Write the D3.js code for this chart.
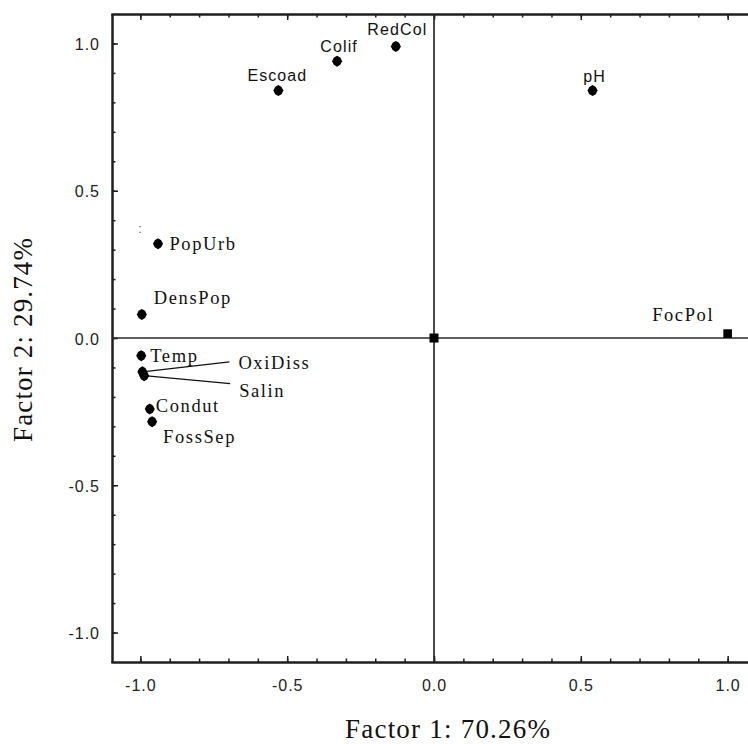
<!DOCTYPE html>
<html>
<head>
<meta charset="utf-8">
<script src="https://cdn.jsdelivr.net/npm/d3@7/dist/d3.min.js"></script>
<style>
  html, body { margin: 0; padding: 0; background: #fff; }
  svg { display: block; }
  .tick-label { font-family: "Liberation Sans", Arial, sans-serif; font-size: 16px; letter-spacing: 1px; fill: #222; }
  .lab-sans { font-family: "Liberation Sans", Arial, sans-serif; font-size: 16px; letter-spacing: 1.1px; fill: #111; }
  .lab-serif { font-family: "Liberation Serif", "Times New Roman", serif; font-size: 18.5px; letter-spacing: 1.6px; fill: #111; }
  .title { font-family: "Liberation Serif", "Times New Roman", serif; font-size: 27px; fill: #111; }
</style>
</head>
<body>
<svg id="chart" width="748" height="744"></svg>
<script>
// Factor loadings of the variables on the first two factors
const variables = ["Escoad", "Colif", "RedCol", "pH", "PopUrb", "DensPop", "Temp", "OxiDiss", "Salin", "Condut", "FossSep", "FocPol"];
const factor1   = [-0.53, -0.33, -0.13, 0.54, -0.94, -0.995, -0.997, -0.993, -0.987, -0.968, -0.960, 1.00];
const factor2   = [0.84, 0.94, 0.99, 0.84, 0.32, 0.08, -0.06, -0.115, -0.128, -0.241, -0.284, 0.015];
const markerKind = ["point", "point", "point", "point", "point", "point", "point", "point", "point", "point", "point", "square"];

// Axis ticks
const majorTicks = [-1.0, -0.5, 0.0, 0.5, 1.0];
const minorTicks = [-1.0, -0.9, -0.8, -0.7, -0.6, -0.5, -0.4, -0.3, -0.2, -0.1, 0.0, 0.1, 0.2, 0.3, 0.4, 0.5, 0.6, 0.7, 0.8, 0.9, 1.0];

// Axis titles
const xTitle = "Factor 1: 70.26%";
const yTitle = "Factor 2: 29.74%";

// Label placement (offset of text from its marker, in pixels)
const labelLayout = {
  Escoad:  { cls: "lab-sans",  anchor: "middle", dx: -1,  dy: -10 },
  Colif:   { cls: "lab-sans",  anchor: "middle", dx: 2,   dy: -9.5 },
  RedCol:  { cls: "lab-sans",  anchor: "middle", dx: 1.5, dy: -11 },
  pH:      { cls: "lab-sans",  anchor: "middle", dx: 2,   dy: -8.5 },
  PopUrb:  { cls: "lab-serif", anchor: "start",  dx: 11.5, dy: 6 },
  DensPop: { cls: "lab-serif", anchor: "start",  dx: 12,  dy: -10.5 },
  Temp:    { cls: "lab-serif", anchor: "start",  dx: 9,   dy: 6 },
  OxiDiss: { cls: "lab-serif", anchor: "start",  dx: 96,  dy: -3,  leader: [-9, -7] },
  Salin:   { cls: "lab-serif", anchor: "start",  dx: 95,  dy: 21,  leader: [-9, -13] },
  Condut:  { cls: "lab-serif", anchor: "start",  dx: 6,   dy: 3 },
  FossSep: { cls: "lab-serif", anchor: "start",  dx: 11,  dy: 21.5 },
  FocPol:  { cls: "lab-serif", anchor: "start",  dx: -75.5, dy: -13 }
};

const svg = d3.select("#chart");
const plotLeft = 112, plotTop = 14, plotBottom = 662;

const x = d3.scaleLinear().domain([-1.1, 1.1]).range([111, 757]);
const y = d3.scaleLinear().domain([-1.1, 1.1]).range([662, 14]);

const axisColor = "#1e1e1e";

function styleAxis(g, width) {
  g.selectAll(".domain").attr("stroke", axisColor).attr("stroke-width", width);
  g.selectAll(".tick line").attr("stroke", axisColor).attr("stroke-width", 1.5);
}

// Left axis: minor + major ticks pointing inward
svg.append("g").attr("transform", `translate(${plotLeft},0)`)
  .call(d3.axisLeft(y).tickValues(minorTicks).tickSize(-3.5).tickSizeOuter(0).tickFormat(""))
  .call(g => styleAxis(g, 2));
svg.append("g").attr("transform", `translate(${plotLeft},0)`)
  .call(d3.axisLeft(y).tickValues(majorTicks).tickSize(-6).tickSizeOuter(0).tickPadding(12)
    .tickFormat(d => d.toFixed(1)))
  .call(g => styleAxis(g, 2))
  .call(g => g.selectAll("text").attr("class", "tick-label").attr("dy", "0.38em"))
  .call(g => g.attr("font-family", null).attr("font-size", null));

// Bottom axis
svg.append("g").attr("transform", `translate(0,${plotBottom})`)
  .call(d3.axisBottom(x).tickValues(minorTicks).tickSize(-3.5).tickSizeOuter(0).tickFormat(""))
  .call(g => styleAxis(g, 2));
svg.append("g").attr("transform", `translate(0,${plotBottom})`)
  .call(d3.axisBottom(x).tickValues(majorTicks).tickSize(-6).tickSizeOuter(0).tickPadding(18)
    .tickFormat(d => d.toFixed(1)))
  .call(g => styleAxis(g, 2))
  .call(g => g.selectAll("text").attr("class", "tick-label"))
  .call(g => g.attr("font-family", null).attr("font-size", null));

// Top axis (ticks only)
svg.append("g").attr("transform", `translate(0,${plotTop})`)
  .call(d3.axisTop(x).tickValues(minorTicks).tickSize(-3.5).tickSizeOuter(0).tickFormat(""))
  .call(g => styleAxis(g, 2));
svg.append("g").attr("transform", `translate(0,${plotTop})`)
  .call(d3.axisTop(x).tickValues(majorTicks).tickSize(-6).tickSizeOuter(0).tickFormat(""))
  .call(g => styleAxis(g, 2));

// Zero reference lines
svg.append("line")
  .attr("x1", x(0)).attr("x2", x(0)).attr("y1", plotTop).attr("y2", plotBottom)
  .attr("stroke", "#2a2a2a").attr("stroke-width", 1.7);
svg.append("line")
  .attr("x1", plotLeft).attr("x2", 748).attr("y1", y(0)).attr("y2", y(0))
  .attr("stroke", "#2a2a2a").attr("stroke-width", 1.7);

// Origin marker
svg.append("rect")
  .attr("x", x(0) - 4.5).attr("y", y(0) - 4.5).attr("width", 9).attr("height", 9)
  .attr("fill", "#000");

// Small stray glyph near the left axis
svg.append("text")
  .attr("x", x(-1.0) - 2).attr("y", y(0.355))
  .attr("font-family", "Liberation Sans, Arial, sans-serif").attr("font-size", 13).attr("fill", "#666")
  .text(":");

const data = variables.map((name, i) => ({ name, f1: factor1[i], f2: factor2[i], kind: markerKind[i] }));

// Leader lines
const leaders = svg.append("g");
data.forEach(d => {
  const L = labelLayout[d.name];
  if (!L.leader) return;
  const px = x(d.f1), py = y(d.f2);
  const tx = px + L.dx + L.leader[0], ty = py + L.dy + L.leader[1];
  leaders.append("line")
    .attr("x1", px).attr("y1", py).attr("x2", tx).attr("y2", ty)
    .attr("stroke", "#111").attr("stroke-width", 1.2);
});

// Markers: rounded diamonds for variables, square for FocPol
const blob = "M0,-5.5 L3.2,-3.6 L5,0 L3.2,3.6 L0,5.5 L-3.2,3.6 L-5,0 L-3.2,-3.6 Z";
const marks = svg.append("g");
data.forEach(d => {
  const px = x(d.f1), py = y(d.f2);
  if (d.kind === "square") {
    marks.append("rect").attr("x", px - 4.3).attr("y", py - 4.3).attr("width", 8.6).attr("height", 8.6).attr("fill", "#000");
  } else {
    marks.append("path").attr("d", blob).attr("transform", `translate(${px},${py})`).attr("fill", "#000");
  }
});

// Variable labels
const labels = svg.append("g");
data.forEach(d => {
  const L = labelLayout[d.name];
  labels.append("text")
    .attr("class", L.cls)
    .attr("x", x(d.f1) + L.dx)
    .attr("y", y(d.f2) + L.dy)
    .attr("text-anchor", L.anchor)
    .text(d.name);
});

// Axis titles
svg.append("text").attr("class", "title")
  .attr("x", 345).attr("y", 738)
  .attr("textLength", 205).attr("lengthAdjust", "spacing")
  .text(xTitle);
svg.append("text").attr("class", "title")
  .attr("transform", `translate(32,442) rotate(-90)`)
  .attr("x", 0).attr("y", 0)
  .attr("textLength", 204).attr("lengthAdjust", "spacing")
  .text(yTitle);
</script>
</body>
</html>
